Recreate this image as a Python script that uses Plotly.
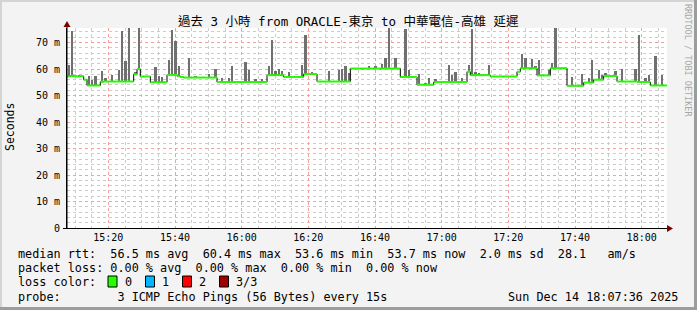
import plotly.graph_objects as go
import pandas as pd

# ---------------- data ----------------
start = pd.Timestamp("2025-12-14 15:07:36")
end = pd.Timestamp("2025-12-14 18:07:36")

# median RTT (ms), one value per minute (180 minutes)
median_rtt = [
    57.2, 57.4, 57.3, 57.2, 57.3,
    56.0,
    53.8, 53.8, 53.8, 53.8,
    55.2, 55.3, 55.3, 55.3, 55.3, 55.3, 55.3, 55.3, 55.3, 55.3,
    58.0,
    60.0,
    57.2, 57.2, 57.2,
    55.0, 55.0, 55.0, 55.0, 55.0,
    57.8, 57.8, 57.8,
    57.3,
    57.0,
    56.8, 56.8, 56.8, 56.8, 56.8, 56.8, 56.8, 56.8, 56.8, 56.8,
    55.1, 55.1, 55.1, 55.1, 55.1, 55.1, 55.1, 55.1, 55.1, 55.1, 55.1, 55.1, 55.1, 55.1, 55.1,
    57.7, 57.7, 57.7, 57.7, 57.7,
    57.0, 57.0, 57.0, 57.0, 57.0, 57.0,
    58.1, 58.1, 58.1, 58.1,
    55.3, 55.3, 55.3, 55.3, 55.3, 55.3, 55.3, 55.3, 55.3, 55.3,
    60.2, 60.2, 60.2, 60.2, 60.2, 60.2, 60.2, 60.2, 60.2, 60.2, 60.2, 60.2, 60.2, 60.2, 60.2,
    57.0, 57.0, 57.0, 57.0, 57.0,
    54.1, 54.1, 54.1, 54.1, 54.1,
    55.1, 55.1, 55.1, 55.1, 55.1, 55.1, 55.1, 55.1, 55.1, 55.1,
    59.0,
    57.7, 57.7, 57.7, 57.7, 57.7, 57.7,
    57.2, 57.2, 57.2, 57.2, 57.2, 57.2, 57.2, 57.2,
    59.0,
    60.3, 60.3, 60.3, 60.3, 60.3,
    57.6, 57.6, 57.6, 57.6,
    60.3, 60.3, 60.3, 60.3, 60.3,
    53.7, 53.7, 53.7, 53.7, 53.7,
    54.9, 54.9, 54.9,
    56.0, 56.0, 56.0,
    57.4, 57.4, 57.4, 57.4,
    55.3, 55.3, 55.3, 55.3, 55.3, 55.3,
    55.1, 55.1, 55.1, 55.1,
    53.8, 53.8, 53.8, 53.8, 53.8,
]

# smoke: minute index and highest ping (ms) of that minute
spike_minute = [0, 1, 3, 6, 7, 8, 10, 11, 13, 15, 16, 17, 18, 20, 21, 26, 27, 28,
                30, 31, 32, 33, 36, 38, 42, 44, 46, 48, 49, 53, 54, 56, 58,
                60, 61, 62, 63, 64, 66, 70, 71, 73, 78, 81, 82, 83, 84,
                90, 92, 94, 95, 96, 98, 101, 102, 105, 107, 108, 110, 114, 115, 116, 118,
                120, 121, 122, 123, 126, 136, 137, 139, 140, 141, 144, 145, 146,
                151, 154, 156, 157, 159, 160, 161, 164, 166, 170, 171, 173, 174, 176, 178]
spike_top = [61.6, 74.4, 57.9, 57.2, 56.0, 57.3, 59.4, 56.6, 57.8, 59.7, 74.5, 63.2, 75.6, 59.0, 75.6, 60.8, 57.2, 57.0,
             63.5, 74.8, 70.5, 61.0, 64.0, 57.5, 58.1, 60.0, 56.6, 56.8, 61.0, 62.8, 59.5, 56.3, 56.2,
             61.0, 71.0, 59.2, 60.0, 59.4, 59.0, 61.6, 72.9, 59.0, 59.2, 59.5, 60.0, 61.3, 58.5,
             61.0, 61.0, 61.8, 64.1, 75.4, 64.0, 75.0, 59.7, 58.2, 54.8, 56.6, 56.2, 61.7, 57.8, 59.0, 56.6,
             61.7, 75.0, 59.0, 58.4, 61.5, 65.8, 64.0, 63.8, 61.0, 63.5, 59.7, 62.3, 75.4,
             57.0, 58.0, 56.5, 63.5, 59.5, 57.8, 58.7, 59.4, 60.0, 60.0, 72.9, 56.6, 57.8, 65.0, 57.6]

y_tick_vals = [0, 10, 20, 30, 40, 50, 60, 70]
y_tick_text = ["0", "10 m", "20 m", "30 m", "40 m", "50 m", "60 m", "70 m"]

title_text = "過去 3 小時 from ORACLE-東京 to 中華電信-高雄 延遲"
legend_lines = [
    "median rtt:  56.5 ms avg  60.4 ms max  53.6 ms min  53.7 ms now  2.0 ms sd  28.1   am/s",
    "packet loss: 0.00 % avg  0.00 % max  0.00 % min  0.00 % now",
    "loss color:",
    "probe:        3 ICMP Echo Pings (56 Bytes) every 15s",
]
loss_labels = ["0", "1", "2", "3/3"]
loss_colors = ["#26ff00", "#00b8ff", "#ff0000", "#a00000"]
timestamp_text = "Sun Dec 14 18:07:36 2025"

# ---------------- geometry ----------------
W, H = 697, 310
L, R, T, B = 67, 30, 28, 82
PW, PH = W - L - R, H - T - B


def px(x):
    return (x - L) / PW


def py(y):
    return (T + PH - y) / PH


MONO = "DejaVu Sans Mono"
minute = pd.Timedelta(minutes=1)

fig = go.Figure()

# smoke bars
bx = [start + (m + 0.5) * minute for m in spike_minute]
bbase = [median_rtt[m] for m in spike_minute]
bh = [t - median_rtt[m] for m, t in zip(spike_minute, spike_top)]
fig.add_trace(go.Bar(x=bx, y=bh, base=bbase, width=0.7 * 60000,
                     marker=dict(color="#707070", line=dict(width=0)),
                     hoverinfo="skip", showlegend=False))

# black step line (transitions)
edges = [start + m * minute for m in range(len(median_rtt) + 1)]
fig.add_trace(go.Scatter(x=edges, y=median_rtt + [median_rtt[-1]], mode="lines",
                         line=dict(color="#000000", width=1, shape="hv"),
                         hoverinfo="skip", showlegend=False))

# green median segments
gx, gy = [], []
for m, v in enumerate(median_rtt):
    gx += [edges[m], edges[m + 1], None]
    gy += [v, v, None]
fig.add_trace(go.Scatter(x=gx, y=gy, mode="lines",
                         line=dict(color="#26ff00", width=2),
                         connectgaps=False, hoverinfo="skip", showlegend=False))

major_grid = "#f2a0a0"
minor_grid = "#cccccc"

fig.update_layout(
    width=W, height=H,
    margin=dict(l=L, r=R, t=T, b=B, pad=0),
    paper_bgcolor="#f3f3f3", plot_bgcolor="#ffffff",
    barmode="overlay", bargap=0,
    showlegend=False,
    xaxis=dict(
        type="date", range=[start, end],
        showline=True, linecolor="#000000", linewidth=1,
        showgrid=True, gridcolor=major_grid, griddash="dot", gridwidth=1,
        tickmode="linear", tick0="2025-12-14 15:20:00", dtick=1200000,
        tickformat="%H:%M", ticks="",
        tickfont=dict(family=MONO, size=10, color="#000000"),
        minor=dict(tickmode="linear", tick0="2025-12-14 15:20:00", dtick=300000,
                   showgrid=True, gridcolor=minor_grid, griddash="dot", gridwidth=1),
        zeroline=False, fixedrange=True,
    ),
    yaxis=dict(
        range=[0, 75.5],
        showline=True, linecolor="#000000", linewidth=1,
        showgrid=True, gridcolor=major_grid, griddash="dot", gridwidth=1,
        tickmode="array", tickvals=y_tick_vals, ticktext=y_tick_text, ticks="",
        ticklabelstandoff=4,
        tickfont=dict(family=MONO, size=10, color="#000000"),
        minor=dict(tickmode="linear", tick0=0, dtick=2,
                   showgrid=True, gridcolor=minor_grid, griddash="dot", gridwidth=1),
        zeroline=False, fixedrange=True,
    ),
)

shapes = []
# frame
shapes.append(dict(type="rect", xref="paper", yref="paper", x0=px(0), x1=px(W), y0=py(2), y1=py(0),
                   fillcolor="#d4d4d4", line=dict(width=0), layer="above"))
shapes.append(dict(type="rect", xref="paper", yref="paper", x0=px(0), x1=px(2), y0=py(H), y1=py(0),
                   fillcolor="#d4d4d4", line=dict(width=0), layer="above"))
shapes.append(dict(type="rect", xref="paper", yref="paper", x0=px(0), x1=px(W), y0=py(H), y1=py(H - 3),
                   fillcolor="#9c9c9c", line=dict(width=0), layer="above"))
shapes.append(dict(type="rect", xref="paper", yref="paper", x0=px(W - 3), x1=px(W), y0=py(H), y1=py(0),
                   fillcolor="#9c9c9c", line=dict(width=0), layer="above"))
# axis extensions
shapes.append(dict(type="line", xref="paper", yref="paper", x0=px(67), x1=px(67), y0=py(228), y1=py(24),
                   line=dict(color="#000000", width=1)))
shapes.append(dict(type="line", xref="paper", yref="paper", x0=px(63), x1=px(670), y0=py(228.5), y1=py(228.5),
                   line=dict(color="#000000", width=1)))
# arrows
shapes.append(dict(type="path", xref="paper", yref="paper",
                   path=f"M {px(67)},{py(21)} L {px(63.5)},{py(27)} L {px(70.5)},{py(27)} Z",
                   fillcolor="#800000", line=dict(width=0)))
shapes.append(dict(type="path", xref="paper", yref="paper",
                   path=f"M {px(673)},{py(228.5)} L {px(667)},{py(225)} L {px(667)},{py(232)} Z",
                   fillcolor="#800000", line=dict(width=0)))
# loss color boxes
box_x = [108, 145.5, 182.5, 219.5]
for bxp, col in zip(box_x, loss_colors):
    shapes.append(dict(type="rect", xref="paper", yref="paper",
                       x0=px(bxp), x1=px(bxp + 9), y0=py(287), y1=py(276),
                       fillcolor=col, line=dict(color="#000000", width=1)))
fig.update_layout(shapes=shapes)

ann = []
nb = lambda s: s.replace(" ", "\u00a0")
ann.append(dict(text=nb(title_text), x=px(348), y=py(21), xref="paper", yref="paper",
                xanchor="center", yanchor="middle", showarrow=False,
                font=dict(family=MONO + ", Noto Sans CJK TC", size=12.5, color="#000000")))
ann.append(dict(text="Seconds", x=px(10), y=py(127), xref="paper", yref="paper", textangle=-90,
                xanchor="center", yanchor="middle", showarrow=False,
                font=dict(family=MONO, size=11.5, color="#000000")))
ann.append(dict(text=nb("RRDTOOL / TOBI OETIKER"), x=px(688), y=py(60), xref="paper", yref="paper",
                textangle=90, xanchor="center", yanchor="middle", showarrow=False,
                font=dict(family=MONO, size=8.5, color="#a8a8a8")))
line_y = [254, 268, 282, 296.5]
for txt, yy in zip(legend_lines, line_y):
    ann.append(dict(text=nb(txt), x=px(16), y=py(yy), xref="paper", yref="paper",
                    xanchor="left", yanchor="middle", showarrow=False,
                    font=dict(family=MONO, size=11.8, color="#000000")))
lab_x = [122.5, 159.5, 196.5, 233.5]
for t, lx in zip(loss_labels, lab_x):
    ann.append(dict(text=t, x=px(lx), y=py(282), xref="paper", yref="paper",
                    xanchor="left", yanchor="middle", showarrow=False,
                    font=dict(family=MONO, size=11.8, color="#000000")))
ann.append(dict(text=nb(timestamp_text), x=px(680), y=py(296.5), xref="paper", yref="paper",
                xanchor="right", yanchor="middle", showarrow=False,
                font=dict(family=MONO, size=11.8, color="#000000")))
fig.update_layout(annotations=ann)

fig.write_html("out.html")
